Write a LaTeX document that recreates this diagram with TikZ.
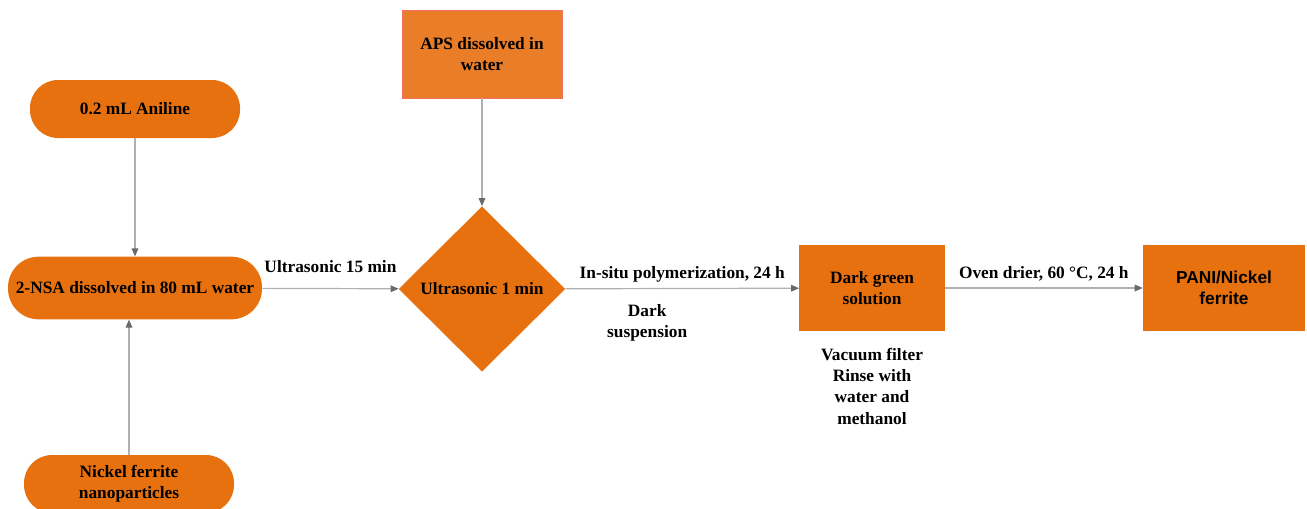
\documentclass[tikz,border=0pt]{standalone}
\usepackage{fontspec}
\setmainfont{Liberation Serif}
\newfontfamily\panifont{Liberation Sans}
\usetikzlibrary{shapes.geometric,arrows.meta}
\definecolor{procorange}{HTML}{E8710F}
\definecolor{apsorange}{HTML}{EA7D27}
\definecolor{apsborder}{HTML}{F2705F}
\definecolor{linegray}{HTML}{B0B0B0}
\definecolor{tipgray}{HTML}{6A6A6A}
\tikzset{
  pill/.style={fill=procorange, rounded corners=21pt, minimum width=157.5pt, minimum height=43.5pt, align=center, font=\bfseries},
  stepbox/.style={fill=procorange, minimum width=109pt, minimum height=65pt, align=center, font=\bfseries},
  flow/.style={draw=linegray, line width=0.9pt, -{Triangle[length=6pt,width=5pt,color=tipgray]}},
  note/.style={align=center, font=\bfseries}
}
\begin{document}
\begin{tikzpicture}[x=0.75pt,y=-0.75pt]
\useasboundingbox (0,0) rectangle (1307,508);
\fontsize{13}{16}\selectfont
    \node[pill] (aniline) at (135,109) {0.2 mL Aniline};
    \node[pill, minimum width=190.5pt, minimum height=47pt, rounded corners=23pt] (nsa) at (135,288) {2-NSA dissolved in 80 mL water};
    \node[pill] (nickel) at (129,484) {Nickel ferrite\\nanoparticles};
    \node[stepbox, fill=apsorange, draw=apsborder, minimum width=120pt, minimum height=66pt] (aps) at (482,54) {APS dissolved in\\water};
    \node[diamond, fill=procorange, inner sep=0pt, minimum width=125pt, minimum height=124pt, font=\bfseries] (mix) at (482,289) {Ultrasonic 1 min};
    \node[stepbox] (green) at (872,288) {Dark green\\solution};
    \node[stepbox, minimum width=121.5pt, font=\panifont\bfseries] (pani) at (1224,288) {PANI/Nickel\\ferrite};

    \draw[flow] (aniline) -- (nsa);
    \draw[flow] (nickel.north) -- (nickel.north |- nsa.south);
    \draw[flow] (aps) -- (mix);
    \draw[flow] (nsa) -- (mix) node[midway, above=7pt, note] (us15) {Ultrasonic 15 min};
    \draw[flow] (mix) -- (green) node[midway, above, note] (insitu) {In-situ polymerization, 24 h}
                                 node[pos=0.35, below=7pt, note] (dark) {Dark\\suspension};
    \draw[flow] (green) -- (pani) node[midway, above, note] (oven) {Oven drier, 60 °C, 24 h};

    \node[note] (vacuum) at (872,386) {Vacuum filter\\Rinse with\\water and\\methanol};
\end{tikzpicture}
\end{document}
